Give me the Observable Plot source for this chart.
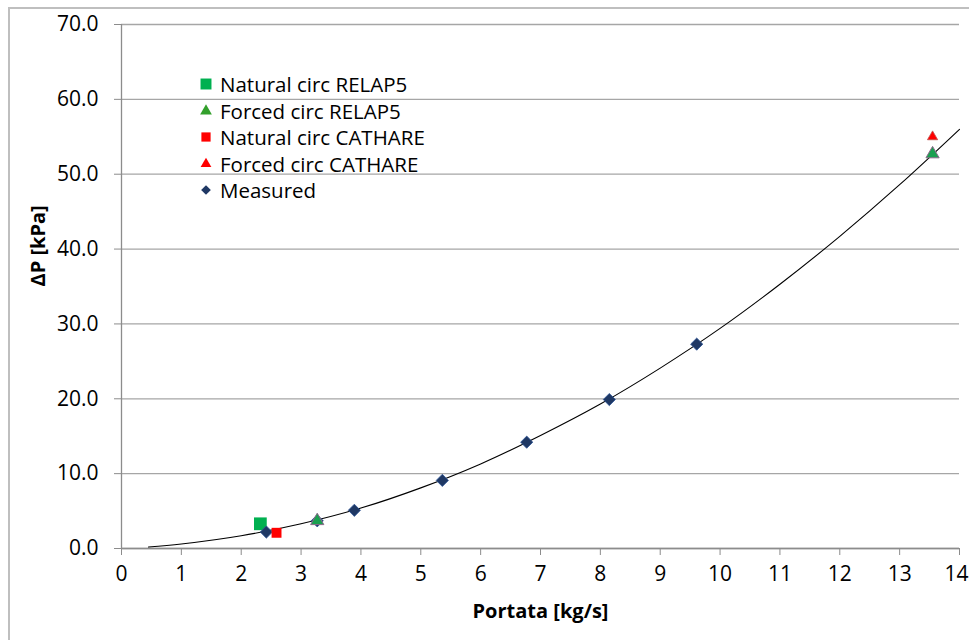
<!DOCTYPE html>
<html>
<head>
<meta charset="utf-8">
<script src="https://cdn.jsdelivr.net/npm/d3@7"></script>
<script src="https://cdn.jsdelivr.net/npm/@observablehq/plot@0.6"></script>
<style>
  html, body { margin: 0; padding: 0; background: #fff; }
  #wrap { position: relative; width: 969px; height: 640px; overflow: hidden; font-family: "Open Sans", sans-serif; }
  #border { position: absolute; left: 8px; top: 7px; width: 1100px; height: 800px; border-left: 2px solid #bfbfbf; border-top: 2px solid #bfbfbf; pointer-events: none; }
  #legend { position: absolute; left: 197px; top: 71px; font-size: 20.5px; color: #000; }
  #legend .row { display: flex; align-items: center; height: 26.5px; white-space: nowrap; }
  #legend svg { width: 18px; height: 18px; margin-right: 5px; }
</style>
</head>
<body>
<div id="wrap"><div id="border"></div><div id="chart"></div><div id="legend"></div></div>
<script>
// Measured data (flow kg/s, ΔP kPa)
const measuredX = [2.42, 3.27, 3.89, 5.36, 6.77, 8.15, 9.61];
const measuredY = [2.2, 3.7, 5.1, 9.1, 14.2, 19.9, 27.3];
// Natural circulation RELAP5
const natRelapX = [2.32];
const natRelapY = [3.3];
// Forced circulation RELAP5
const forRelapX = [3.27, 13.55];
const forRelapY = [3.7, 52.7];
// Natural circulation CATHARE
const natCathX = [2.59];
const natCathY = [2.1];
// Forced circulation CATHARE
const forCathX = [3.27, 13.55];
const forCathY = [3.7, 55.0];
// Trend curve
const trendX = [0.45, 1, 2, 3, 4, 5, 6, 7, 8, 9, 10, 11, 12, 13, 14];
const trendY = [0.2, 0.6, 1.7, 3.3, 5.4, 8.1, 11.3, 15.1, 19.3, 24.1, 29.4, 35.3, 41.7, 48.6, 56.0];
// Ticks
const xTicks = [0,1,2,3,4,5,6,7,8,9,10,11,12,13,14];
const yTicks = [0,10,20,30,40,50,60,70];

const legendItems = [
  {label: "Natural circ RELAP5", symbol: "square", color: "#00b050", size: 120},
  {label: "Forced circ RELAP5", symbol: "triangle", color: "#33a02c", size: 60},
  {label: "Natural circ CATHARE", symbol: "square", color: "#ff0000", size: 85},
  {label: "Forced circ CATHARE", symbol: "triangle", color: "#ff0000", size: 50},
  {label: "Measured", symbol: "diamond", color: "#1f3864", size: 60}
];

const zip = (xs, ys) => xs.map((x, i) => ({x, y: ys[i]}));
const measured = zip(measuredX, measuredY);
const natRelap = zip(natRelapX, natRelapY);
const forRelap = zip(forRelapX, forRelapY);
const natCath = zip(natCathX, natCathY);
const forCath = zip(forCathX, forCathY);
const trend = zip(trendX, trendY);
const lastX = xTicks[xTicks.length - 1];

const chart = Plot.plot({
  width: 969,
  height: 640,
  marginLeft: 121,
  marginRight: 10,
  marginTop: 24,
  marginBottom: 92,
  style: {fontFamily: "'Open Sans', sans-serif", fontSize: "21px", background: "transparent", overflow: "visible", color: "#000"},
  x: {domain: [0, 14], label: null},
  y: {domain: [0, 70], label: null},
  marks: [
    Plot.gridY(yTicks, {stroke: "#a6a6a6", strokeOpacity: 1, strokeWidth: 1.3}),
    Plot.axisX({ticks: xTicks, tickFormat: d => d === lastX ? "" : String(d), tickSize: 7, tickPadding: 11, stroke: "#8c8c8c", fill: "#000", fontSize: 21, label: null}),
    Plot.text([lastX], {x: d => d, frameAnchor: "bottom", lineAnchor: "top", dy: 18, dx: -3, fontSize: 21, fill: "#000", text: d => String(d)}),
    Plot.axisY({ticks: yTicks, tickFormat: d3.format(".1f"), tickSize: 7, tickPadding: 16, stroke: "#8c8c8c", fill: "#000", fontSize: 21, label: null}),
    Plot.ruleX([0], {stroke: "#8c8c8c", strokeWidth: 1.3}),
    Plot.ruleY([0], {stroke: "#8c8c8c", strokeWidth: 1.3}),
    Plot.line(trend, {x: "x", y: "y", stroke: "#000", strokeWidth: 1.1, curve: "catmull-rom"}),
    Plot.dot(natRelap, {x: "x", y: "y", symbol: "square", r: 7.2, fill: "#00b050"}),
    Plot.dot(measured, {x: "x", y: "y", symbol: "diamond2", r: 5.5, fill: "#1f3864", stroke: "#2f5597", strokeWidth: 0.8}),
    Plot.dot(natCath, {x: "x", y: "y", symbol: "square", r: 5.6, fill: "#ff0000"}),
    Plot.dot(forCath, {x: "x", y: "y", symbol: "triangle", r: 3.8, fill: "#ff0000", stroke: "#c0504d", strokeWidth: 0.8}),
    Plot.dot(forRelap, {x: "x", y: "y", symbol: "triangle", r: 4.9, fill: "#1aa050", stroke: "#8a6a8a", strokeWidth: 1}),
    Plot.text(["Portata [kg/s]"], {frameAnchor: "bottom", dy: 63, lineAnchor: "middle", fontWeight: "bold", fontSize: 20, fill: "#000"}),
    Plot.text(["ΔP [kPa]"], {frameAnchor: "left", dx: -83, rotate: -90, fontWeight: "bold", fontSize: 20, fill: "#000"})
  ]
});
document.getElementById("chart").appendChild(chart);

// legend
const legend = document.getElementById("legend");
const symType = {square: d3.symbolSquare, triangle: d3.symbolTriangle, diamond: d3.symbolDiamond2};
for (const item of legendItems) {
  const row = document.createElement("div");
  row.className = "row";
  const path = d3.symbol(symType[item.symbol], item.size)();
  row.innerHTML = `<svg viewBox="-9 -9 18 18"><path d="${path}" fill="${item.color}"></path></svg><span>${item.label}</span>`;
  legend.appendChild(row);
}
</script>
</body>
</html>
